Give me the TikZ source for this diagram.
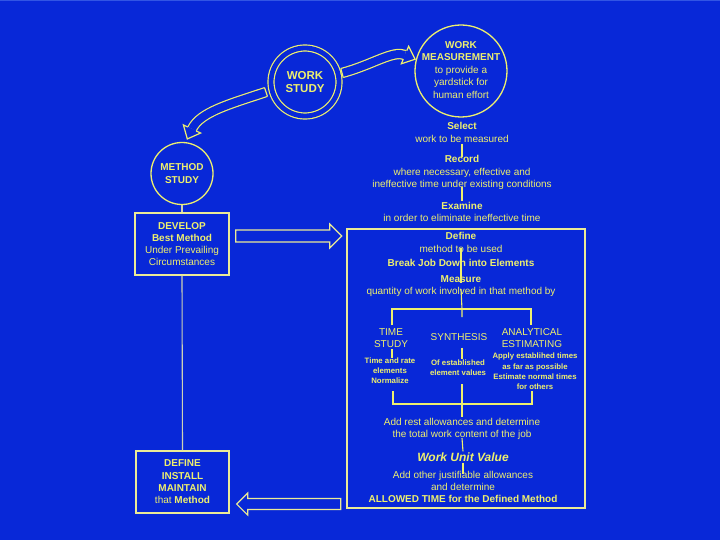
\documentclass[tikz,border=0pt]{standalone}
\usepackage{fontspec}
\setmainfont{Liberation Sans}
\usetikzlibrary{calc}
\definecolor{bg}{RGB}{8,40,216}
\definecolor{bgtop}{RGB}{50,85,228}
\definecolor{ylw}{RGB}{238,240,110}
\definecolor{lnc}{RGB}{235,235,150}
\definecolor{pale}{RGB}{205,210,180}
\begin{document}
\begin{tikzpicture}[x=1pt,y=-1pt,
  txt/.style={text=ylw, align=center, inner sep=1pt, font=\fontsize{10}{12.5}\selectfont},
  sm/.style={text=ylw, align=center, inner sep=1pt, font=\bfseries\fontsize{7.8}{10}\selectfont},
  ln/.style={draw=ylw, line width=1.1pt},
  paleln/.style={draw=pale, line width=1.1pt},
  boxst/.style={draw=lnc, line width=1.3pt, minimum height=62, inner sep=0pt},
  circst/.style={circle, draw=ylw, line width=1.3pt, inner sep=0pt},
  blk/.style={draw=lnc, fill=bg, line width=1.2pt, line join=miter},
  shaft/.style={draw=ylw, line width=1.2pt, double=bg, double distance=8pt},
  headln/.style={draw=ylw, line width=1.2pt, line join=miter},
]
\useasboundingbox (0,0) rectangle (720,540);
\fill[bg] (0,0) rectangle (720,540);
\fill[bgtop] (0,0) rectangle (720,1.5);

% circles
\node[circle, draw=ylw, line width=1.2pt, double=bg, double distance=4.8pt, minimum size=68, inner sep=0pt,
      text=ylw, align=center, font=\bfseries\fontsize{11.5}{13.5}\selectfont] (ws) at (305,82) {WORK\\STUDY};
\node[circst, minimum size=92] (wm) at (461,71) {};
\node[txt] (wmt) at (461,70) {\textbf{WORK}\\\textbf{MEASUREMENT}\\to provide a\\yardstick for\\human effort};
\node[circst, minimum size=62, text=ylw, align=center, font=\bfseries\fontsize{10}{12.5}\selectfont] (ms) at (182,173.5) {METHOD\\STUDY};

% left boxes
\node[boxst, minimum width=94, text=ylw, align=center, font=\fontsize{10}{12}\selectfont] (dev) at (182,244)
  {\textbf{DEVELOP}\\\textbf{Best Method}\\Under Prevailing\\Circumstances};
\node[boxst, minimum width=93, text=ylw, align=center, font=\fontsize{10}{12.3}\selectfont] (dim) at (182.5,482)
  {\textbf{DEFINE}\\\textbf{INSTALL}\\\textbf{MAINTAIN}\\that \textbf{Method}};
\draw[paleln] (ms.south) -- (dev.north);
\draw[paleln] (dev.south) -- (dim.north);

% big box
\node[draw=lnc, line width=1.4pt, minimum width=238, minimum height=279, inner sep=0pt] (bb) at (466,368.5) {};

% straight block arrows
\coordinate (a1) at ($(dev.east)+(6,-8)$);
\draw[blk] ($(a1)+(0,-6)$) -- ++(94,0) -- ++(0,-6) -- ($(a1)+(106,0)$) -- ++(-12,12) -- ++(0,-6) -- ($(a1)+(0,6)$) -- cycle;
\coordinate (a2) at ($(dim.east)+(7,22)$);
\draw[blk] (a2) -- ++(11,-11) -- ++(0,5.5) -- ++(93,0) -- ++(0,11) -- ++(-93,0) -- ++(0,5.5) -- cycle;

% curved arrow: work study -> work measurement
\coordinate (s1) at ($(ws.center)+(37,-9)$);
\coordinate (c1a) at (372,65);
\coordinate (c1b) at (393,50);
\coordinate (e1) at ($(wm.center)+(-56,-16)$);
\coordinate (t1) at ($(e1)!-11pt!(c1b)$);
\draw[shaft] (s1) .. controls (c1a) and (c1b) .. (e1);
\fill[bg] ($(e1)!9.5pt!90:(t1)$) -- (t1) -- ($(e1)!9.5pt!-90:(t1)$) -- cycle;
\draw[headln] ($(e1)!4.6pt!90:(t1)$) -- ($(e1)!9.5pt!90:(t1)$) -- (t1) -- ($(e1)!9.5pt!-90:(t1)$) -- ($(e1)!4.6pt!-90:(t1)$);
\draw[headln] ($(s1)!4.6pt!90:(c1a)$) -- ($(s1)!4.6pt!-90:(c1a)$);

% curved arrow: work study -> method study
\coordinate (s2) at ($(ws.center)+(-39,10)$);
\coordinate (c2a) at (230,104);
\coordinate (c2b) at (200,112);
\coordinate (e2) at ($(ms.center)+(10,-44.5)$);
\coordinate (t2) at ($(e2)!-11pt!(c2b)$);
\draw[shaft] (s2) .. controls (c2a) and (c2b) .. (e2);
\fill[bg] ($(e2)!9.5pt!90:(t2)$) -- (t2) -- ($(e2)!9.5pt!-90:(t2)$) -- cycle;
\draw[headln] ($(e2)!4.6pt!90:(t2)$) -- ($(e2)!9.5pt!90:(t2)$) -- (t2) -- ($(e2)!9.5pt!-90:(t2)$) -- ($(e2)!4.6pt!-90:(t2)$);
\draw[headln] ($(s2)!4.6pt!90:(c2a)$) -- ($(s2)!4.6pt!-90:(c2a)$);

% right column texts
\node[txt] (sel) at (462,132.5) {\textbf{Select}\\work to be measured};
\node[txt] (rec) at (462,172.5) {\textbf{Record}\\where necessary, effective and\\ineffective time under existing conditions};
\node[txt] (exa) at (462,212) {\textbf{Examine}\\in order to eliminate ineffective time};
\node[txt] (def) at (461,242.5) {\textbf{Define}\\method to be used};
\node[txt] (brk) at (461,263) {\textbf{Break Job Down into Elements}};
\node[txt] (mea) at (461,286) {\textbf{Measure}\\quantity of work involved in that method by};
\node[txt] (ts) at (391,338) {TIME\\STUDY};
\node[txt] (syn) at (459,337) {SYNTHESIS};
\node[txt] (ana) at (532,338) {ANALYTICAL\\ESTIMATING};
\node[sm] (tsd) at (390,371) {Time and rate\\elements\\Normalize};
\node[sm] (synd) at (458,368) {Of established\\element values};
\node[sm, font=\bfseries\fontsize{7.8}{10.3}\selectfont] (anad) at (535,371.5) {Apply establihed times\\as far as possible\\Estimate normal times\\for others};
\node[txt] (add) at (462,429) {Add rest allowances and determine\\the total work content of the job};
\node[txt, font=\bfseries\itshape\fontsize{12}{14}\selectfont] (wuv) at (463,457) {Work Unit Value};
\node[txt, font=\fontsize{10}{12}\selectfont] (alw) at (463,487) {Add other justifiable allowances\\and determine\\\textbf{ALLOWED TIME for the Defined Method}};

% connectors in right column
\draw[ln] (sel.south) -- ($(rec.north)+(0,3)$);
\draw[ln] ($(rec.south)-(0,4)$) -- (exa.north);
\draw[ln] ($(def.south)-(0,6)$) -- ($(mea.north)+(0,9)$);
\coordinate (tk) at (462,309);
\draw[ln] ($(mea.south)-(0,9)$) -- (tk) -- ++(0,8);
\coordinate (tl) at ($(ts.north)+(1,-2)$);
\coordinate (tr) at ($(ana.north)+(-1,-2)$);
\draw[ln] (tl) -- (tl |- tk) -- (tr |- tk) -- (tr);
\draw[ln] ($(ts.south)+(1,0)$) -- ($(tsd.north)+(2,1)$);
\draw[ln] ($(syn.south -| synd.north)+(4,6)$) -- ($(synd.north)+(4,0)$);
\coordinate (bk) at (462,404);
\coordinate (lb) at ($(tsd.south)+(3,6)$);
\coordinate (rb) at ($(anad.south)+(-3,0)$);
\draw[ln] (lb) -- (lb |- bk) -- (rb |- bk) -- (rb);
\draw[ln] ($(synd.south -| add.north)+(0,7)$) -- (add.north);
\draw[ln] ($(add.south)-(0,3)$) -- (wuv.north);
\draw[ln] (wuv.south) -- ($(alw.north)+(0,4)$);
\end{tikzpicture}
\end{document}
